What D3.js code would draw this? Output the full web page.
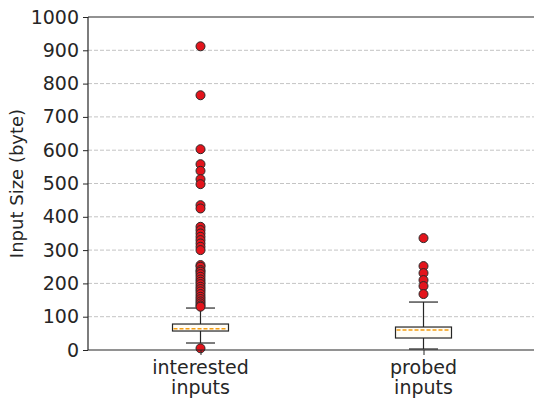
<!DOCTYPE html>
<html>
<head>
<meta charset="utf-8">
<script src="https://cdn.jsdelivr.net/npm/d3@7"></script>
<style>
  body { margin: 0; background: #fff; }
  svg text { font-family: "DejaVu Sans", sans-serif; fill: #262626; }
</style>
</head>
<body>
<div id="chart"></div>
<script>
// box stats
const categories = ["interested\ninputs", "probed\ninputs"];
const whiskerLow = [21, 3];
const q1 = [57, 36];
const median = [64, 60];
const q3 = [78, 69];
const whiskerHigh = [126, 144];
const outliers = [
  [912, 765, 603, 558, 538, 513, 498, 435, 425, 370, 360, 350, 340, 330, 320, 310, 300,
   255, 250, 240, 235, 228, 220, 212, 205, 198, 190, 183, 176, 168, 160, 153, 146, 140, 134, 130, 5],
  [336, 252, 231, 210, 192, 168]
];
const yTicks = [0, 100, 200, 300, 400, 500, 600, 700, 800, 900, 1000];

const width = 534, height = 399;
const margin = {top: 17, right: 0, bottom: 49, left: 88};

const svg = d3.select("#chart").append("svg")
  .attr("width", width)
  .attr("height", height);

const xScale = d3.scaleLinear()
  .domain([0.5, 2.5])
  .range([89, 535]);

const yScale = d3.scaleLinear()
  .domain([0, 1000])
  .range([height - margin.bottom, margin.top]);

// grid
svg.append("g")
  .selectAll("line")
  .data(yTicks.slice(1, -1))
  .enter()
  .append("line")
    .attr("x1", margin.left)
    .attr("x2", width)
    .attr("y1", d => yScale(d))
    .attr("y2", d => yScale(d))
    .attr("stroke", "#c4c4c4")
    .attr("stroke-width", 1)
    .attr("stroke-dasharray", "4,2");

// boxes
const boxW = 56 / 223, capW = 29 / 223;
const groups = svg.append("g")
  .selectAll("g")
  .data(categories.map((c, i) => ({i: i, pos: i + 1})))
  .enter()
  .append("g");

groups.append("line")
  .attr("x1", d => xScale(d.pos)).attr("x2", d => xScale(d.pos))
  .attr("y1", d => yScale(whiskerLow[d.i])).attr("y2", d => yScale(q1[d.i]))
  .attr("stroke", "#262626").attr("stroke-width", 1.2);
groups.append("line")
  .attr("x1", d => xScale(d.pos)).attr("x2", d => xScale(d.pos))
  .attr("y1", d => yScale(q3[d.i])).attr("y2", d => yScale(whiskerHigh[d.i]))
  .attr("stroke", "#262626").attr("stroke-width", 1.2);
groups.selectAll(".cap")
  .data(d => [whiskerLow[d.i], whiskerHigh[d.i]].map(v => ({pos: d.pos, v: v})))
  .enter()
  .append("line")
    .attr("class", "cap")
    .attr("x1", d => xScale(d.pos - capW / 2)).attr("x2", d => xScale(d.pos + capW / 2))
    .attr("y1", d => yScale(d.v)).attr("y2", d => yScale(d.v))
    .attr("stroke", "#262626").attr("stroke-width", 1.2);
groups.append("rect")
  .attr("x", d => xScale(d.pos - boxW / 2))
  .attr("width", d => xScale(d.pos + boxW / 2) - xScale(d.pos - boxW / 2))
  .attr("y", d => yScale(q3[d.i]))
  .attr("height", d => yScale(q1[d.i]) - yScale(q3[d.i]))
  .attr("fill", "#fffdf6")
  .attr("stroke", "#262626").attr("stroke-width", 1.2);
groups.append("line")
  .attr("x1", d => xScale(d.pos - boxW / 2) + 1).attr("x2", d => xScale(d.pos + boxW / 2) - 1)
  .attr("y1", d => yScale(median[d.i])).attr("y2", d => yScale(median[d.i]))
  .attr("stroke", "#f39c12").attr("stroke-width", 1.5)
  .attr("stroke-dasharray", "4,2");

groups.selectAll("circle")
  .data(d => outliers[d.i].map(v => ({pos: d.pos, v: v})))
  .enter()
  .append("circle")
    .attr("cx", d => xScale(d.pos))
    .attr("cy", d => yScale(d.v))
    .attr("r", 4.5)
    .attr("fill", "#e3141c")
    .attr("stroke", "#2a2a2a")
    .attr("stroke-width", 1);

// axes
const yAxis = svg.append("g")
  .attr("transform", `translate(${margin.left}, 0)`)
  .call(d3.axisLeft(yScale).tickValues(yTicks).tickFormat(d3.format("d")).tickSize(5).tickPadding(4));
yAxis.selectAll("text").style("font-size", "19px");

const xAxis = svg.append("g")
  .attr("transform", `translate(0, ${height - margin.bottom})`)
  .call(d3.axisBottom(xScale).tickValues([1, 2]).tickSize(5).tickFormat(""));

[yAxis, xAxis].forEach(a => {
  a.select(".domain").remove();
  a.selectAll("line").attr("stroke", "#262626");
});

categories.forEach((c, i) => {
  const t = svg.append("text")
    .attr("x", xScale(i + 1))
    .attr("y", height - margin.bottom + 24)
    .attr("text-anchor", "middle")
    .style("font-size", "19px");
  c.split("\n").forEach((s, j) => {
    t.append("tspan").attr("x", xScale(i + 1)).attr("dy", j ? 20 : 0).text(s);
  });
});

// spines
svg.append("line")
  .attr("x1", margin.left).attr("x2", margin.left)
  .attr("y1", margin.top).attr("y2", height - margin.bottom)
  .attr("stroke", "#262626").attr("stroke-width", 1.2);
svg.append("line")
  .attr("x1", margin.left).attr("x2", width)
  .attr("y1", margin.top).attr("y2", margin.top)
  .attr("stroke", "#262626").attr("stroke-width", 1.2);
svg.append("line")
  .attr("x1", margin.left).attr("x2", width)
  .attr("y1", height - margin.bottom).attr("y2", height - margin.bottom)
  .attr("stroke", "#262626").attr("stroke-width", 1.2);

svg.append("text")
  .attr("transform", `translate(23, ${(margin.top + height - margin.bottom) / 2}) rotate(-90)`)
  .attr("text-anchor", "middle")
  .style("font-size", "18px")
  .text("Input Size (byte)");
</script>
</body>
</html>
